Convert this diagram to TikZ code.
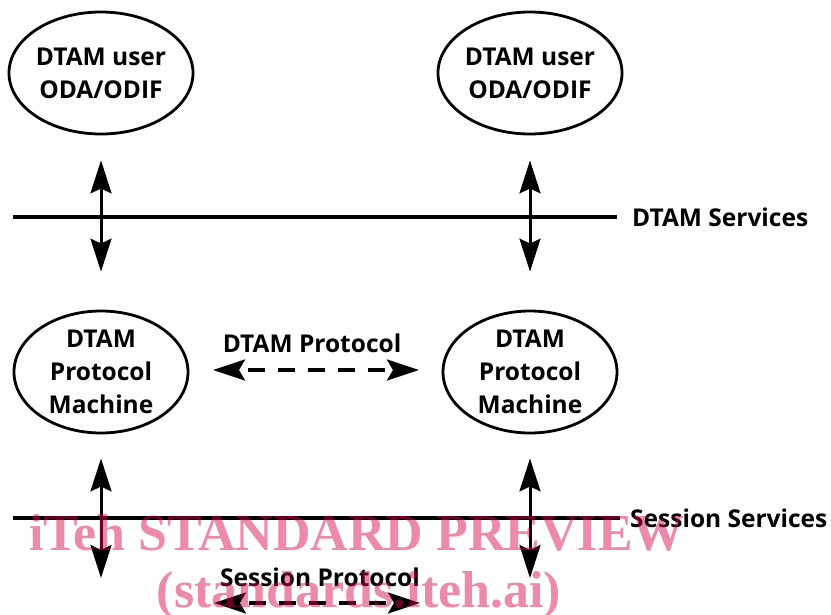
\documentclass[tikz,border=0pt]{standalone}
\usepackage{fontspec}
\setmainfont{Open Sans}
\newfontfamily\wmfont{Liberation Serif}
\usetikzlibrary{shapes.geometric,arrows.meta}
\definecolor{wmpink}{RGB}{214,9,69}
\tikzset{
  entity/.style={ellipse, draw, line width=2.8pt, minimum width=174pt, minimum height=122pt,
    inner sep=0pt, align=center, font=\bfseries\fontsize{24.5}{33}\selectfont},
  lab/.style={inner sep=0pt, font=\bfseries\fontsize{24.5}{28}\selectfont},
  layer/.style={line width=3.2pt},
  varrow/.style={line width=3pt, {Stealth[length=33pt,width=21pt,inset=5pt]}-{Stealth[length=33pt,width=21pt,inset=5pt]}},
  parrow/.style={line width=3.4pt, dash pattern=on 17pt off 13pt, dash phase=-10pt,
    {Stealth[length=32pt,width=21pt,inset=6pt]}-{Stealth[length=32pt,width=21pt,inset=6pt]}},
  wm/.style={inner sep=0pt, anchor=base, text=wmpink, text opacity=0.47,
    font=\wmfont\bfseries\fontsize{52}{56}\selectfont}
}
\begin{document}
\begin{tikzpicture}[x=1pt,y=-1pt]
\useasboundingbox (0,0) rectangle (831,614);

% the two users
\node[entity] (u1) at (101,73) {DTAM user\\ODA/ODIF};
\node[entity] (u2) at (530,73) {DTAM user\\ODA/ODIF};

% the two protocol machines
\node[entity] (m1) at (101,372) {DTAM\\Protocol\\Machine};
\node[entity] (m2) at (530,372) {DTAM\\Protocol\\Machine};

% service boundaries
\node[lab, anchor=west] (dts) at (632,217) {DTAM Services};
\coordinate (dl) at (13,217);
\draw[layer] (dl) -- ([xshift=-15pt]dts.west);

\node[lab, anchor=west] (sss) at (630,518) {Session Services};
\coordinate (sl) at (13,518);
\draw[layer] (sl) -- ([xshift=-10pt]sss.west);

% service primitives across the DTAM boundary
\draw[varrow, shorten <=25pt, shorten >=38pt] (u1.south) -- (m1.north);
\draw[varrow, shorten <=25pt, shorten >=38pt] (u2.south) -- (m2.north);

% service primitives across the session boundary
\coordinate (b1) at (101,578);
\coordinate (b2) at (530,578);
\draw[varrow, shorten <=24pt] (m1.south) -- (b1);
\draw[varrow, shorten <=24pt] (m2.south) -- (b2);

% peer protocols
\node[lab] (dp) at (312,343) {DTAM Protocol};
\coordinate (pa) at (213,370);
\coordinate (pb) at (419,370);
\draw[parrow] (pa) -- (pb);

\node[lab] (sp) at (320,577) {Session Protocol};
\coordinate (sa) at (214,603);
\coordinate (sb) at (420,603);
\draw[parrow] (sa) -- (sb);

% overprinted banner
\node[wm] (w1) at (357,550) {iTeh STANDARD PREVIEW};
\node[wm] (w2) at (359,607) {(standards.iteh.ai)};
\end{tikzpicture}
\end{document}
